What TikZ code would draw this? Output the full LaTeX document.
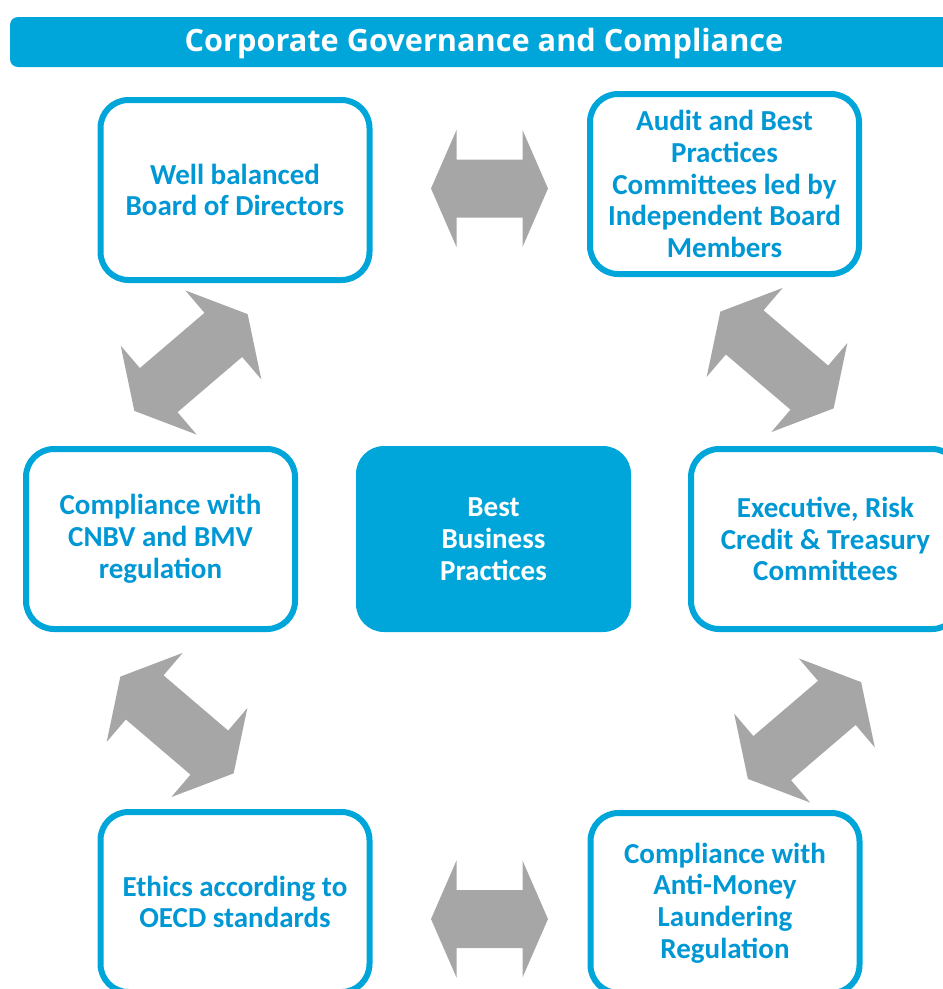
\documentclass[tikz,border=0pt]{standalone}
\usepackage{fontspec}
\setmainfont{Carlito}
\newfontfamily\titlefont{Open Sans}
\definecolor{cgblue}{RGB}{0,166,218}
\definecolor{cgtext}{RGB}{0,152,212}
\definecolor{cgarrow}{RGB}{166,166,166}

% double-headed block arrow: centre, angle, half shaft length, half total length
\newcommand{\dblarrow}[4]{%
  \fill[cgarrow, shift={(#1)}, rotate=#2]
    (-#3,-29) -- (#3,-29) -- (#3,-58.5) -- (#4,0) -- (#3,58.5) -- (#3,29)
    -- (-#3,29) -- (-#3,58.5) -- (-#4,0) -- (-#3,-58.5) -- cycle;}

\begin{document}
\begin{tikzpicture}[x=1pt,y=-1pt,
  boxfont/.style={font=\bfseries\fontsize{29}{31.8}\selectfont},
  framebox/.style={draw=cgblue, line width=6pt, fill=white, rounded corners=28pt,
    minimum width=269pt, minimum height=180pt, inner sep=0pt,
    text=cgtext, align=center, boxfont},
  corebox/.style={fill=cgblue, rounded corners=28pt,
    minimum width=275pt, minimum height=186pt, inner sep=0pt,
    text=white, align=center, boxfont}]
\useasboundingbox (0,0) rectangle (943,989);

% title banner
\fill[cgblue, rounded corners=8pt] (10,17) rectangle (980,67);
\node[text=white, font=\titlefont\bfseries\fontsize{30.7}{34}\selectfont] (title) at (484,44)
  {Corporate Governance and Compliance};

% boxes
\node[framebox] (board) at (235,190) {Well balanced\\Board of Directors};
\node[framebox] (audit) at (724.5,184) {Audit and Best\\Practices\\Committees led by\\Independent Board\\Members};
\node[framebox] (cnbv) at (160.5,539) {Compliance with\\CNBV and BMV\\regulation};
\node[corebox] (core) at (493.5,539) {Best\\Business\\Practices};
\node[framebox] (exec) at (825.5,539) {Executive, Risk\\Credit \& Treasury\\Committees};
\node[framebox] (ethics) at (235,902) {Ethics according to\\OECD standards};
\node[framebox] (aml) at (725,903) {Compliance with\\Anti-Money\\Laundering\\Regulation};

% block arrows between the boxes
\coordinate (ctop) at (489.5,188.5);
\coordinate (cbottom) at (489.5,919);
\coordinate (cleftup) at (191,362.5);
\coordinate (crightup) at (777,360);
\coordinate (cleftdown) at (177,725);
\coordinate (crightdown) at (804.5,730.5);
\dblarrow{ctop}{0}{33}{58.5}
\dblarrow{cbottom}{0}{33}{58.5}
\dblarrow{cleftup}{40.5}{42.5}{74.5}
\dblarrow{crightup}{-40.5}{42.5}{74.5}
\dblarrow{cleftdown}{-40.5}{42.5}{74.5}
\dblarrow{crightdown}{40.5}{42.5}{74.5}
\end{tikzpicture}
\end{document}
